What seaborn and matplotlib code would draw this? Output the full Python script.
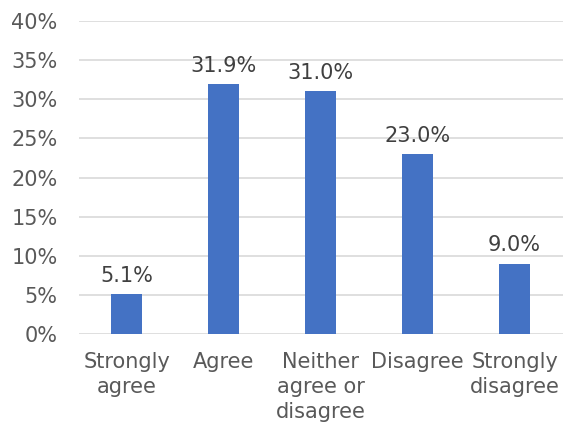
import matplotlib
matplotlib.use("Agg")
import matplotlib.pyplot as plt
import seaborn as sns
import pandas as pd
from matplotlib.ticker import FuncFormatter, MultipleLocator

categories = ["Strongly\nagree", "Agree", "Neither\nagree or\ndisagree", "Disagree", "Strongly\ndisagree"]
values = [5.1, 31.9, 31.0, 23.0, 9.0]
labels = ["5.1%", "31.9%", "31.0%", "23.0%", "9.0%"]

sns.set_theme(style="white")
plt.rcParams['font.family'] = ['DejaVu Sans']

df = pd.DataFrame({"cat": categories, "val": values})

fig = plt.figure(figsize=(5.65, 4.3), dpi=100)
ax = fig.add_axes([0.139, 0.2233, 0.8575, 0.7277])
sns.barplot(data=df, x="cat", y="val", color="#4472C4", width=0.32, ax=ax,
            saturation=1, linewidth=0, edgecolor="none")

ax.set_ylim(0, 40)
ax.yaxis.set_major_locator(MultipleLocator(5))
ax.yaxis.set_major_formatter(FuncFormatter(lambda v, p: f"{v:.0f}%"))
ax.grid(axis="y", color="#D9D9D9", linewidth=1.2)
ax.set_axisbelow(True)
for s in ax.spines.values():
    s.set_visible(False)
ax.set_xlabel("")
ax.set_ylabel("")
ax.tick_params(axis="y", length=0, pad=15, labelsize=15, labelcolor="#595959")
ax.tick_params(axis="x", length=0, pad=13, labelsize=15, labelcolor="#595959")
for t in ax.get_xticklabels():
    t.set_linespacing(1.3)
    t.set_verticalalignment("top")

ax.bar_label(ax.containers[0], labels=labels, padding=6, fontsize=15, color="#404040")

fig.savefig("out.png", dpi=100, facecolor="white")
